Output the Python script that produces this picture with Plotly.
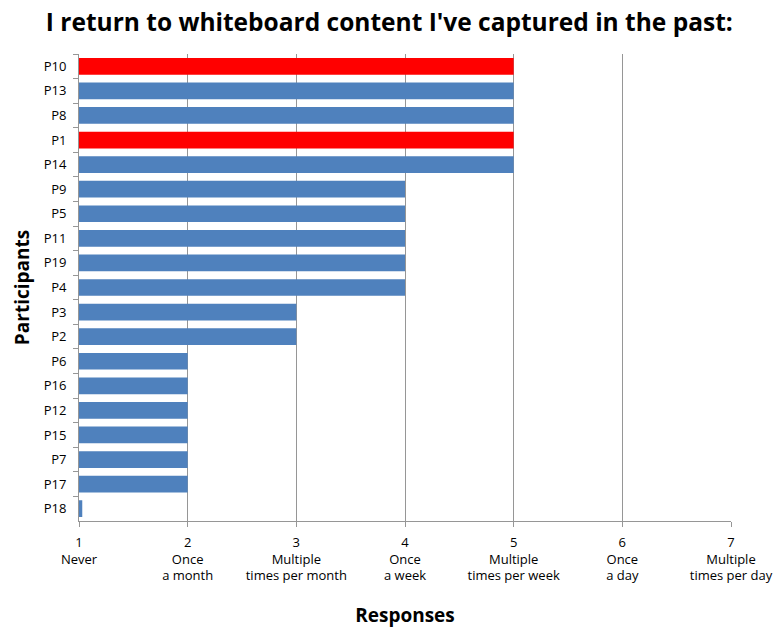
import plotly.graph_objects as go

participants = ["P10", "P13", "P8", "P1", "P14", "P9", "P5", "P11", "P19", "P4",
                "P3", "P2", "P6", "P16", "P12", "P15", "P7", "P17", "P18"]
responses = [5, 5, 5, 5, 5, 4, 4, 4, 4, 4, 3, 3, 2, 2, 2, 2, 2, 2, 1.03]
highlighted = ["P10", "P1"]
tick_values = [1, 2, 3, 4, 5, 6, 7]
tick_labels = ["1<br>Never", "2<br>Once<br>a month", "3<br>Multiple<br>times per month",
               "4<br>Once<br>a week", "5<br>Multiple<br>times per week",
               "6<br>Once<br>a day", "7<br>Multiple<br>times per day"]

colors = ["#FF0000" if p in highlighted else "#4F81BD" for p in participants]

fig = go.Figure(go.Bar(
    x=responses, y=participants, orientation="h",
    marker=dict(color=colors, line=dict(width=0)),
    width=0.68,
))

font_family = "Open Sans, DejaVu Sans, sans-serif"
fig.update_layout(
    width=774, height=628,
    margin=dict(l=79, r=43, t=54, b=107, autoexpand=False),
    paper_bgcolor="white", plot_bgcolor="white",
    showlegend=False,
    font=dict(family=font_family, size=12, color="#000000"),
    title=dict(text="<b>I return to whiteboard content I've captured in the past:</b>",
               x=0.503, xanchor="center", y=0.965, yanchor="middle",
               font=dict(size=24.5, family=font_family, color="#000000")),
)
fig.update_xaxes(
    range=[1, 7], tickvals=tick_values, ticktext=tick_labels,
    showgrid=True, gridcolor="#969696", gridwidth=1,
    showline=True, linecolor="#969696", linewidth=1,
    ticks="outside", ticklen=5, tickcolor="#969696", automargin=False,
    tickfont=dict(size=13), zeroline=False, ticklabelstandoff=4,
    title=dict(text="<b>Responses</b>", font=dict(size=19), standoff=28),
)
fig.update_yaxes(
    categoryorder="array", categoryarray=participants, autorange="reversed",
    showline=True, linecolor="#969696", linewidth=1, automargin=False,
    ticks="outside", ticklen=5, tickcolor="#969696", tickson="boundaries",
    showgrid=False, tickfont=dict(size=13), ticklabelstandoff=9,
    title=dict(text="<b>Participants</b>", font=dict(size=19), standoff=9),
)

fig.write_html("out.html")
